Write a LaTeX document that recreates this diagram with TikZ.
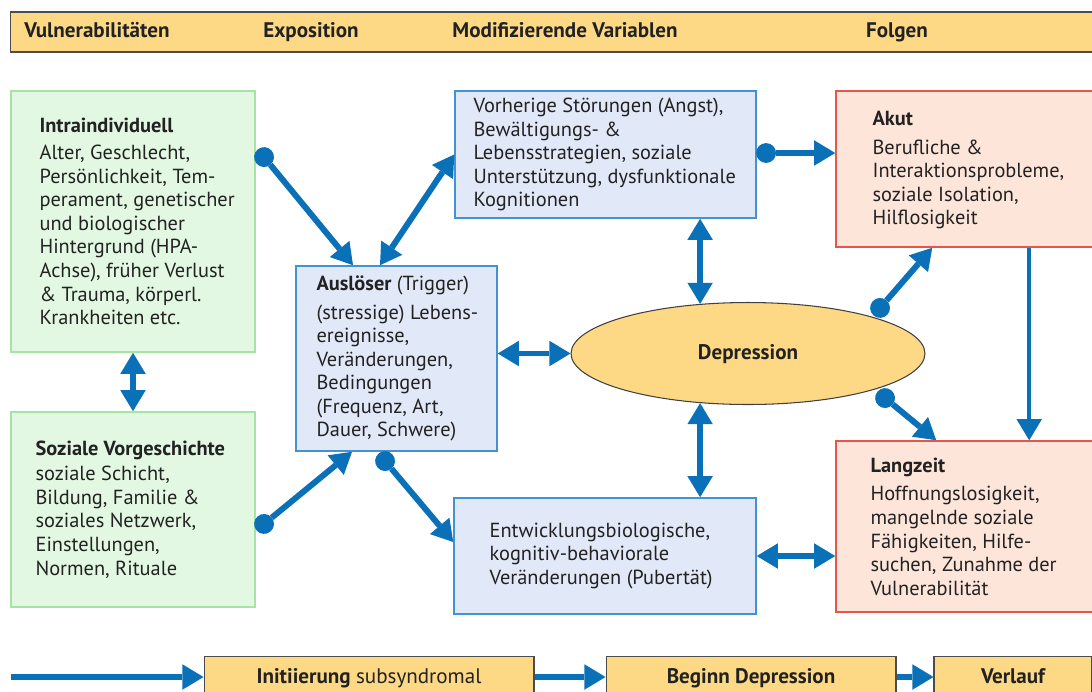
\documentclass[tikz,border=0pt]{standalone}
\usepackage{fontspec}
\setmainfont{PT Sans}
\usetikzlibrary{arrows.meta,shapes.geometric,positioning}

\definecolor{barfill}{HTML}{FDD985}
\definecolor{greenfill}{HTML}{E2F8E2}
\definecolor{greenline}{HTML}{A6E4A6}
\definecolor{bluefill}{HTML}{E1E8F8}
\definecolor{blueline}{HTML}{4393D3}
\definecolor{redfill}{HTML}{FDE5DA}
\definecolor{redline}{HTML}{E4574A}
\definecolor{arrowblue}{HTML}{0A70B7}
\definecolor{ink}{HTML}{222222}

\tikzset{
  greenbox/.style={draw=greenline, fill=greenfill, line width=0.9pt, inner sep=0pt},
  bluebox/.style={draw=blueline, fill=bluefill, line width=0.9pt, inner sep=0pt},
  redbox/.style={draw=redline, fill=redfill, line width=0.9pt, inner sep=0pt},
  barbox/.style={draw=black!70, fill=barfill, line width=0.6pt, inner sep=0pt,
    text=ink, text height=1.6ex, text depth=0.5ex, font=\fontsize{12}{13}\selectfont\bfseries},
  txt/.style={align=left, inner sep=0pt, text=ink, font=\fontsize{11.6}{13.4}\selectfont},
  head/.style={inner sep=0pt, text=ink, font=\fontsize{12}{13}\selectfont\bfseries},
  flow/.style={draw=arrowblue, line width=3.4pt, -{Triangle[length=12pt, width=14.5pt, line width=0pt]}},
  both/.style={flow, {Triangle[length=12pt, width=14.5pt, line width=0pt]}-{Triangle[length=12pt, width=14.5pt, line width=0pt]}},
  dotflow/.style={flow, {Circle[length=11.3pt, line width=0pt]}-{Triangle[length=12pt, width=14.5pt, line width=0pt]},
    shorten <=-5.6pt},
}

\begin{document}
\begin{tikzpicture}[x=0.02cm, y=-0.02cm]
  \useasboundingbox (0,0) rectangle (1092,691);
  \clip (0,0) rectangle (1092,691);

  % phases
  \node[barbox, minimum width=21.8cm, minimum height=0.8cm] (bar) at (555,32) {};
  \node[head, anchor=base] (hvul) at (97,37) {Vulnerabilitäten};
  \node[head, anchor=base] (hexp) at (311,37) {Exposition};
  \node[head, anchor=base] (hmod) at (565,37) {Modifizierende Variablen};
  \node[head, anchor=base] (hfol) at (897,37) {Folgen};

  % vulnerabilities
  \node[greenbox, minimum width=4.88cm, minimum height=5.22cm] (intra) at (133,221.5) {};
  \node[txt, anchor=west] (intratxt) at ([xshift=0.58cm]intra.west)
    {\textbf{Intraindividuell}\\[2pt]
     Alter, Geschlecht,\\
     Persönlichkeit, Tem-\\
     perament, genetischer\\
     und biologischer\\
     Hintergrund (HPA-\\
     Achse), früher Verlust\\
     \& Trauma, körperl.\\
     Krankheiten etc.};
  \node[greenbox, minimum width=4.88cm, minimum height=3.9cm] (sozial) at (133,509.5) {};
  \node[txt, anchor=west] (sozialtxt) at ([xshift=0.5cm]sozial.west)
    {\textbf{Soziale Vorgeschichte}\\[1pt]
     soziale Schicht,\\
     Bildung, Familie \&\\
     soziales Netzwerk,\\
     Einstellungen,\\
     Normen, Rituale};

  % exposition
  \node[bluebox, minimum width=4.02cm, minimum height=3.7cm] (ausl) at (396.5,358.5) {};
  \node[txt, anchor=west] (ausltxt) at ([xshift=0.42cm]ausl.west)
    {\textbf{Auslöser} (Trigger)\\[3pt]
     (stressige) Lebens-\\
     ereignisse,\\
     Veränderungen,\\
     Bedingungen\\
     (Frequenz, Art,\\
     Dauer, Schwere)};

  % modifying variables
  \node[bluebox, minimum width=6.02cm, minimum height=2.54cm] (vorh) at (605.5,154.5) {};
  \node[txt, anchor=west] (vorhtxt) at ([xshift=0.38cm]vorh.west)
    {Vorherige Störungen (Angst),\\
     Bewältigungs- \&\\
     Lebensstrategien, soziale\\
     Unterstützung, dysfunktionale\\
     Kognitionen};
  \node[bluebox, minimum width=6.04cm, minimum height=2.32cm] (entw) at (605,556) {};
  \node[txt, anchor=west] (entwtxt) at ([xshift=0.72cm]entw.west)
    {Entwicklungsbiologische,\\
     kognitiv-behaviorale\\
     Veränderungen (Pubertät)};
  \node[ellipse, draw=black!75, fill=barfill, line width=0.6pt,
    minimum width=7.08cm, minimum height=2.04cm, inner sep=0pt] (depr) at (748,353.5) {};
  \node[head, anchor=base] (deprtxt) at (748,359) {Depression};

  % consequences
  \node[redbox, minimum width=5.28cm, minimum height=3.12cm] (akut) at (968,169) {};
  \node[txt, anchor=west] (akuttxt) at ([xshift=0.74cm,yshift=-0.02cm]akut.west)
    {\textbf{Akut}\\[3pt]
     Berufliche \&\\
     Interaktionsprobleme,\\
     soziale Isolation,\\
     Hilflosigkeit};
  \node[redbox, minimum width=5.28cm, minimum height=3.42cm] (lang) at (968,526.5) {};
  \node[txt, anchor=west] (langtxt) at ([xshift=0.7cm]lang.west)
    {\textbf{Langzeit}\\[3pt]
     Hoffnungslosigkeit,\\
     mangelnde soziale\\
     Fähigkeiten, Hilfe-\\
     suchen, Zunahme der\\
     Vulnerabilität};

  % course
  \node[barbox, minimum width=6.6cm, minimum height=0.9cm] (init) at (369,679)
    {\textbf{Initiierung} \mdseries subsyndromal};
  \node[barbox, minimum width=5.8cm, minimum height=0.9cm] (begin) at (751,679) {Beginn Depression};
  \node[barbox, minimum width=3.16cm, minimum height=0.9cm] (verl) at (1013,679) {Verlauf};
  \coordinate (start) at (11,677);

  % connectors
  \coordinate (d1) at (264,157);
  \coordinate (d2) at (264,524);
  \coordinate (d3) at (385,461);
  \coordinate (d4) at (766,153);
  \coordinate (d5) at (880,308);
  \coordinate (d6) at (885,398);
  \draw[both] (intra.south) -- (sozial.north);
  \draw[dotflow] (d1) -- ([xshift=-0.87cm]ausl.north);
  \draw[both] ([xshift=-0.33cm]ausl.north) -- (vorh.west);
  \draw[dotflow] (d2) -- ([xshift=-0.89cm]ausl.south);
  \draw[dotflow] (d3) -- ([yshift=0.28cm]entw.west);
  \draw[both] (ausl.east |- depr.west) -- (depr.west);
  \draw[both] (depr.134 |- vorh.south) -- (depr.134);
  \draw[both] (depr.226) -- (depr.226 |- entw.north);
  \draw[dotflow] (d4) -- (d4 -| akut.west);
  \draw[dotflow] (d5) -- ([xshift=1.94cm]akut.south west);
  \draw[dotflow] (d6) -- ([xshift=2.02cm]lang.north west);
  \draw[flow, line width=2.6pt] ([xshift=3.88cm]akut.south west) -- ([xshift=3.88cm]lang.north west);
  \draw[both] (entw.east) -- (entw.east -| lang.west);
  \draw[flow] (start) -- (start -| init.west);
  \draw[flow] (start -| init.east) -- (start -| begin.west);
  \draw[flow] (start -| begin.east) -- (start -| verl.west);
\end{tikzpicture}
\end{document}
